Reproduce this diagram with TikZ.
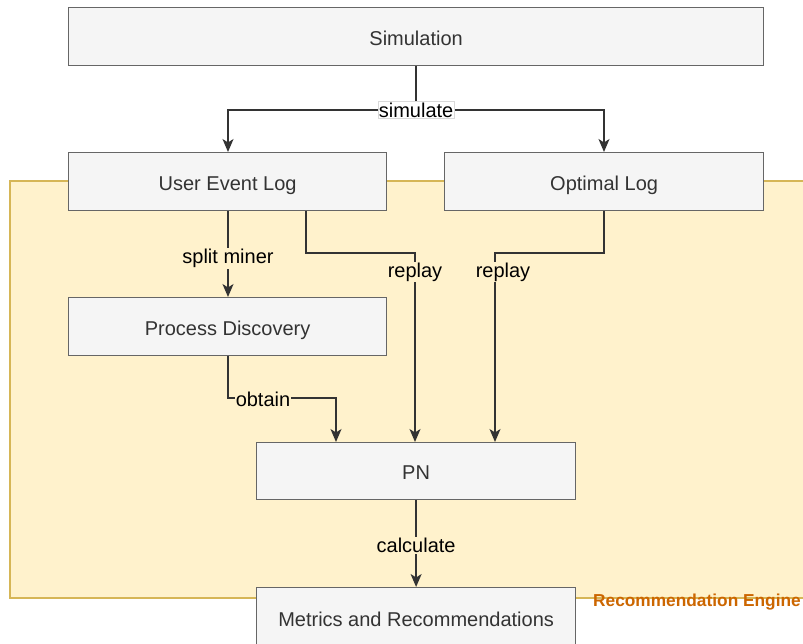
\documentclass[tikz,border=0pt]{standalone}
\usepackage{fontspec}
\setmainfont{Liberation Sans}
\usetikzlibrary{arrows.meta}
\definecolor{boxfill}{HTML}{F5F5F5}
\definecolor{boxline}{HTML}{666666}
\definecolor{txt}{HTML}{333333}
\definecolor{engfill}{HTML}{FFF2CC}
\definecolor{engline}{HTML}{D6B656}
\definecolor{englabel}{HTML}{CC6600}
\tikzset{
  blk/.style={draw=boxline, fill=boxfill, line width=1.2pt, text=txt, font=\fontsize{20}{23}\selectfont, anchor=north west, inner sep=0pt, text height=17pt, text depth=0pt},
  conn/.style={draw=txt, line width=1.3pt, -{Stealth[length=13pt,width=11pt,inset=3.5pt]}},
  elab/.style={fill=engfill, font=\fontsize{20}{23}\selectfont, inner sep=1pt, text=black, yshift=-2pt},
  wlab/.style={fill=white, draw=black!15, line width=0.6pt, font=\fontsize{20}{23}\selectfont, inner sep=1pt, text=black}
}
\begin{document}
\begin{tikzpicture}[x=1pt,y=-1pt]
\useasboundingbox (0,0) rectangle (803,644);
% container
\path[fill=engfill, draw=engline, line width=1.2pt] (10,181) rectangle (810,598);
\node[anchor=east, text=englabel, font=\bfseries\fontsize{17.3}{20}\selectfont, inner sep=0pt] (englab) at (801,602) {Recommendation Engine};
% boxes
\node[blk, minimum width=695pt, minimum height=58pt] (sim) at (68,7) {Simulation};
\node[blk, minimum width=318pt, minimum height=58pt] (uel) at (68,152) {User Event Log};
\node[blk, minimum width=319pt, minimum height=58pt] (opt) at (444,152) {Optimal Log};
\node[blk, minimum width=318pt, minimum height=58pt] (pd) at (68,297) {Process Discovery};
\node[blk, minimum width=319pt, minimum height=57pt] (pn) at (256,442) {PN};
\node[blk, minimum width=319pt, minimum height=60pt] (met) at (256,587) {Metrics and Recommendations};
% coordinates
\coordinate (s1) at (sim.south |- 0,110);
\coordinate (o1) at (306,253);
\coordinate (o2) at (604,253);
\coordinate (p1) at (228,398);
% connectors
\draw[conn] (sim.south) -- (s1) -| (uel.north -| 228,0);
\draw[conn] (s1) -| (opt.north -| 604,0);
\node[wlab] (simlab) at (s1) {simulate};
\draw[conn] (uel.south -| 228,0) -- (pd.north -| 228,0) node[elab, pos=0.53] (lsm) {split miner};
\draw[conn] (uel.south -| 306,0) -- (o1) -| (pn.north -| 415,0);
\node[elab] (lr1) at (415,270) {replay};
\draw[conn] (opt.south -| 604,0) -- (o2) -| (pn.north -| 495,0);
\node[elab] (lr2) at (503,270) {replay};
\draw[conn] (pd.south -| 228,0) -- (p1) -| (pn.north -| 336,0);
\node[elab] (lob) at (263,397) {obtain};
\draw[conn] (pn.south) -- (met.north) node[elab, midway] (lc) {calculate};
\end{tikzpicture}
\end{document}
